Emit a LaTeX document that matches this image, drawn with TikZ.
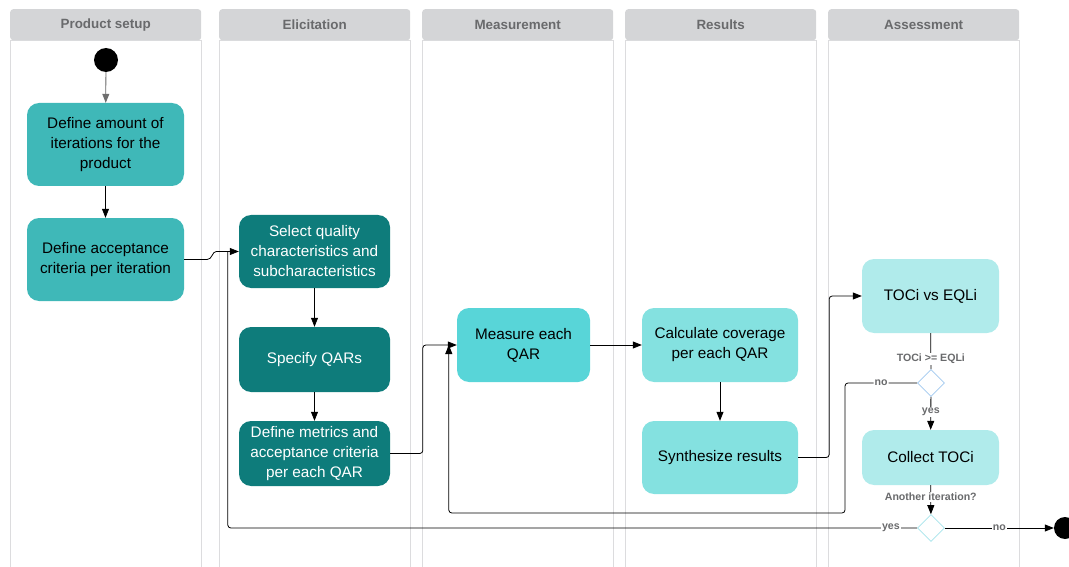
\documentclass[tikz,border=0pt]{standalone}
\usepackage{fontspec}
\setmainfont{Liberation Sans}
\usetikzlibrary{arrows.meta,positioning,shapes.geometric}

\definecolor{headgrey}{RGB}{212,213,215}
\definecolor{headtext}{RGB}{105,106,108}
\definecolor{laneline}{RGB}{220,220,222}
\definecolor{setupteal}{RGB}{63,184,184}
\definecolor{elicitteal}{RGB}{14,124,123}
\definecolor{measureteal}{RGB}{88,213,216}
\definecolor{resultteal}{RGB}{132,225,224}
\definecolor{assessteal}{RGB}{176,235,235}
\definecolor{choiceblue}{RGB}{160,200,240}
\definecolor{choicecyan}{RGB}{165,228,236}
\definecolor{startgrey}{RGB}{110,110,110}

\begin{document}
\begin{tikzpicture}[x=1pt, y=-1pt,
  lane/.style = {draw=laneline, line width=0.7pt},
  head/.style = {fill=headgrey, rounded corners=3pt, text=headtext, minimum width=191pt, minimum height=31pt, anchor=north west, font=\fontsize{13.4}{15}\selectfont\bfseries},
  act/.style = {rounded corners=12pt, align=center, inner sep=0pt, font=\fontsize{15.3}{20}\selectfont},
  setup/.style = {act, fill=setupteal, minimum width=157pt, minimum height=83pt},
  elicit/.style = {act, fill=elicitteal, text=white, minimum width=151pt, minimum height=65pt},
  measure/.style = {act, fill=measureteal, minimum width=133pt, minimum height=74pt},
  result/.style = {act, fill=resultteal, minimum width=156pt, minimum height=74pt},
  assess/.style = {act, fill=assessteal, minimum width=137pt, minimum height=55pt},
  choice/.style = {diamond, fill=white, line width=0.8pt, minimum width=27pt, minimum height=27pt, inner sep=0pt},
  dot/.style = {circle, fill=black, inner sep=0pt},
  flow/.style = {-{Triangle[length=9pt,width=7pt]}, line width=0.8pt},
  link/.style = {line width=0.8pt},
  lbl/.style = {fill=white, text=headtext, inner sep=1pt, font=\fontsize{10.6}{12}\selectfont\bfseries}
]
\useasboundingbox (0,0) rectangle (1069,567);

% swimlanes
\foreach \x/\name in {10/Product setup, 219/Elicitation, 422/Measurement, 625/Results, 828/Assessment} {
  \draw[lane] (\x,40) rectangle ++(191,560);
  \node[head] (head\x) at (\x,9) {\name};
}

% activities
\node[dot, minimum size=24pt] (start) at (106,60) {};
\node[setup] (amount) at (105.5,144.5) {Define amount of\\iterations for the\\product};
\node[setup] (accept) at (105.5,259.5) {Define acceptance\\criteria per iteration};
\node[elicit, minimum height=73pt] (select) at (314.5,251.5) {Select quality\\characteristics and\\subcharacteristics};
\node[elicit] (qars) at (314.5,359.5) {Specify QARs};
\node[elicit] (metrics) at (314.5,453.5) {Define metrics and\\acceptance criteria\\per each QAR};
\node[measure] (measure) at (523.5,345) {Measure each\\QAR};
\node[result] (coverage) at (720,345) {Calculate coverage\\per each QAR};
\node[result, minimum height=73pt] (synth) at (720,457.5) {Synthesize results};
\node[assess, minimum height=74pt] (versus) at (930.5,296) {TOCi vs EQLi};
\node[assess] (collect) at (930.5,457.5) {Collect TOCi};
\node[choice, draw=choiceblue] (check) at (931,383) {};
\node[choice, draw=choicecyan] (again) at (931,528) {};
\node[dot, minimum size=22pt] (stop) at (1065,528) {};

% flows
\draw[flow, draw=startgrey, fill=startgrey] (start) -- (amount);
\draw[flow] (amount) -- (accept);
\draw[flow] (accept.east) -- ++(23,0) .. controls +(5,0) and +(-4,0) .. ++(9,-8) -- (select.west);
\draw[flow] (select) -- (qars);
\draw[flow] (qars) -- (metrics);
\draw[flow, rounded corners=3pt] (metrics.east) -| ([xshift=-34pt]measure.west) -- (measure.west);
\draw[flow] (measure) -- (coverage);
\draw[flow] (coverage) -- (synth);
\draw[flow, rounded corners=3pt] (synth.east) -- ++(31,0) |- (versus.west);
\draw[link] (versus) -- node[lbl, pos=0.72] {TOCi >= EQLi} (check);
\draw[flow, rounded corners=3pt] (check.west) -| node[lbl, pos=0.25] {no} (845,513) -| ([xshift=-8pt]measure.west);
\draw[flow] (check) -- node[lbl, pos=0.45] {yes} (collect);
\draw[flow] (collect) -- node[lbl, pos=0.4] {Another iteration?} (again);
\draw[flow] (again) -- node[lbl] {no} (stop);
\draw[link, rounded corners=3pt] (again.west) -| node[lbl, pos=0.019] {yes} ([xshift=-11pt]select.west);
\end{tikzpicture}
\end{document}
